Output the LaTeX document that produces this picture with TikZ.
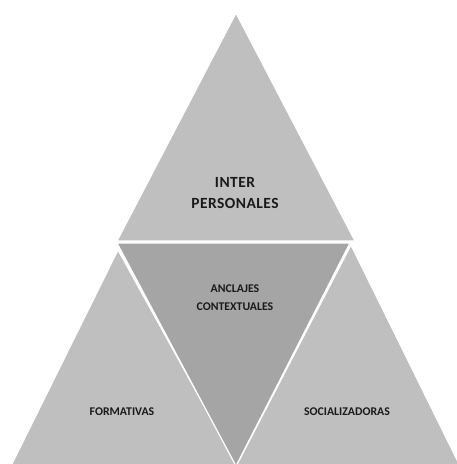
\documentclass[tikz,border=0pt]{standalone}
\usepackage{fontspec}
\setmainfont{Carlito}
\newfontfamily\spaced[LetterSpace=3]{Carlito}
\definecolor{lightg}{HTML}{BFBFBF}
\definecolor{darkg}{HTML}{A5A5A5}
\definecolor{txt}{HTML}{1A1A1A}
\tikzset{
  tri/.style={fill=lightg, draw=white, line width=1.2pt, line join=miter},
  midtri/.style={fill=darkg, draw=white, line width=1.2pt},
  bigtxt/.style={font=\spaced\bfseries\fontsize{15.5}{21}\selectfont, text=txt, align=center, inner sep=0pt},
  smalltxt/.style={font=\bfseries\fontsize{11.8}{18}\selectfont, text=txt, align=center, inner sep=0pt}
}
\begin{document}
\begin{tikzpicture}[x=1pt,y=-1pt]
\useasboundingbox (0,0) rectangle (457,464);
\clip (0,0) rectangle (457,464);
\fill[white] (0,0) rectangle (457,464);
% left triangle
\path[tri] (118,250) -- (5,478) -- (244,478) -- cycle;
% right triangle
\path[tri] (351,245) -- (230,478) -- (466,478) -- cycle;
% middle inverted triangle
\path[midtri] (117,243) -- (350,243) -- (236,466) -- cycle;
% top triangle
\path[tri] (236,13) -- (355,241) -- (117,241) -- cycle;
\node[bigtxt] (inter) at (235,193) {INTER\\PERSONALES};
\node[smalltxt] (anc) at (235,298) {ANCLAJES\\CONTEXTUALES};
\node[smalltxt] (form) at (122,412) {FORMATIVAS};
\node[smalltxt] (soc) at (347,412) {SOCIALIZADORAS};
\end{tikzpicture}
\end{document}
